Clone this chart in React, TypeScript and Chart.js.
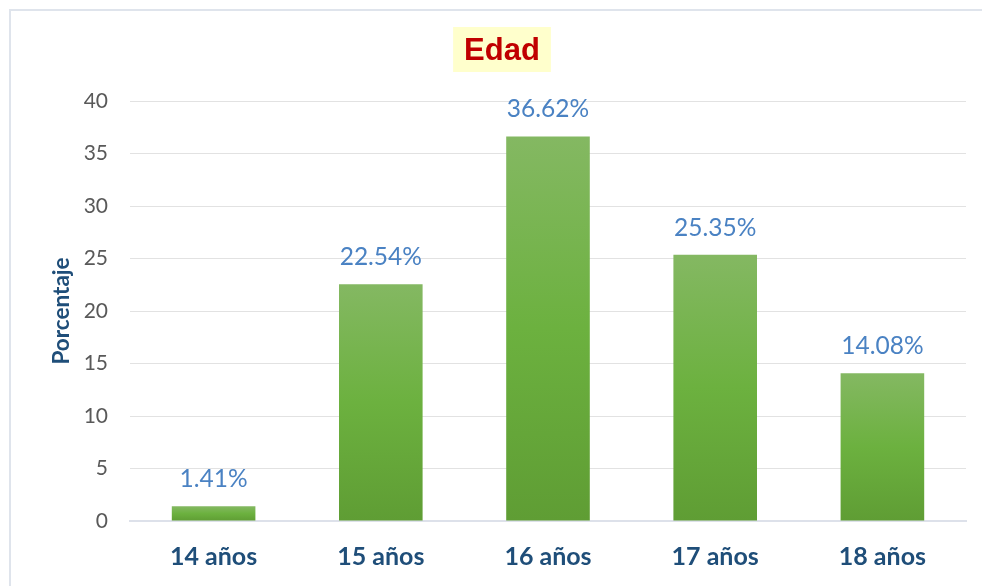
import React, { useEffect, useRef } from "react";
import { Chart, registerables } from "chart.js";

Chart.register(...registerables);

const categories = ["14 años", "15 años", "16 años", "17 años", "18 años"];
const values = [1.41, 22.54, 36.62, 25.35, 14.08];
const valueLabels = ["1.41%", "22.54%", "36.62%", "25.35%", "14.08%"];
const titleText = "Edad";
const yAxisTitle = "Porcentaje";
const yMin = 0;
const yMax = 40;
const yStep = 5;

const FONT = "Lato, 'Open Sans', sans-serif";

export default function App() {
  const ref = useRef<HTMLCanvasElement | null>(null);

  useEffect(() => {
    const canvas = ref.current;
    if (!canvas) return;

    const framePlugin = {
      id: "frame",
      beforeDraw(chart: any) {
        const ctx = chart.ctx;
        ctx.save();
        ctx.fillStyle = "#ffffff";
        ctx.fillRect(0, 0, chart.width, chart.height);
        ctx.fillStyle = "#dfe4ec";
        ctx.fillRect(9, 9, 2, chart.height - 9);
        ctx.fillRect(9, 9, chart.width - 9, 2);
        // title box
        ctx.font = "bold 31px 'Liberation Sans', Arial, sans-serif";
        const w = ctx.measureText(titleText).width;
        const cx = 502;
        const boxW = w + 22;
        ctx.fillStyle = "#ffffcc";
        ctx.fillRect(cx - boxW / 2, 27, boxW, 45);
        ctx.fillStyle = "#c00000";
        ctx.textAlign = "center";
        ctx.textBaseline = "alphabetic";
        ctx.fillText(titleText, cx, 60);
        ctx.restore();
      },
    };

    const labelPlugin = {
      id: "valueLabels",
      afterDatasetsDraw(chart: any) {
        const ctx = chart.ctx;
        const meta = chart.getDatasetMeta(0);
        ctx.save();
        ctx.font = `24.5px ${FONT}`;
        ctx.fillStyle = "#4a82c3";
        ctx.textAlign = "center";
        ctx.textBaseline = "alphabetic";
        meta.data.forEach((bar: any, i: number) => {
          ctx.fillText(valueLabels[i], bar.x, bar.y - 19);
        });
        ctx.restore();
      },
    };

    const chart = new Chart(canvas, {
      type: "bar",
      data: {
        labels: categories,
        datasets: [
          {
            data: values,
            backgroundColor: (c: any) => {
              const ch = c.chart;
              if (!ch.chartArea || c.dataIndex === undefined) return "#6aab3e";
              const y = ch.scales.y;
              const top = y.getPixelForValue(values[c.dataIndex]);
              const bottom = y.getPixelForValue(0);
              if (!isFinite(top) || !isFinite(bottom) || bottom - top < 1) return "#7cb457";
              const g = ch.ctx.createLinearGradient(0, top, 0, bottom);
              g.addColorStop(0, "#84b862");
              g.addColorStop(0.5, "#6cb13f");
              g.addColorStop(1, "#5f9d34");
              return g;
            },
            borderWidth: 0,
            barPercentage: 0.5,
            categoryPercentage: 1,
          },
        ],
      },
      options: {
        animation: false,
        responsive: false,
        maintainAspectRatio: false,
        layout: { padding: { top: 101, left: 44, right: 16, bottom: 0 } },
        plugins: {
          legend: { display: false },
          title: { display: false },
          tooltip: { enabled: false },
        },
        scales: {
          x: {
            afterFit: (s: any) => {
              s.height = 65;
            },
            grid: { display: false, drawTicks: false },
            border: { display: true, color: "#dde1ea", width: 2 },
            ticks: {
              padding: 21,
              color: "#1f4e79",
              font: { family: FONT, size: 25, weight: "bold" },
            },
          },
          y: {
            min: yMin,
            max: yMax,
            afterFit: (s: any) => {
              s.width = 86;
            },
            grid: { color: "#e2e2e2", lineWidth: 1, drawTicks: false },
            border: { display: false },
            ticks: {
              stepSize: yStep,
              padding: 22,
              color: "#595959",
              font: { family: FONT, size: 21 },
            },
            title: {
              display: true,
              text: yAxisTitle,
              color: "#1f4e79",
              font: { family: FONT, size: 22.5, weight: "bold" },
              padding: { top: 4, bottom: 0 },
            },
          },
        },
      },
      plugins: [framePlugin, labelPlugin],
    });

    return () => chart.destroy();
  }, []);

  return (
    <div style={{ position: "fixed", left: 0, top: 0, width: 982, height: 586, overflow: "hidden", background: "#fff" }}>
      <canvas ref={ref} width={982} height={586} style={{ display: "block", width: 982, height: 586 }} />
    </div>
  );
}
